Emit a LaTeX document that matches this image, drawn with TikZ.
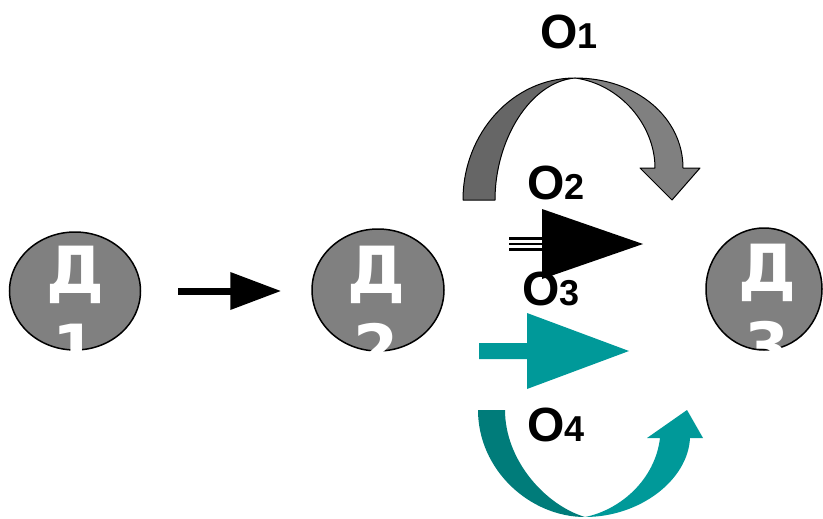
\documentclass[tikz,border=0pt]{standalone}
\usepackage{fontspec}
\setmainfont{Liberation Sans}
\newfontfamily\dfont{DejaVu Sans}
\usetikzlibrary{shapes.geometric,arrows.meta}
\definecolor{dgrey}{HTML}{666666}
\definecolor{mgrey}{HTML}{808080}
\definecolor{dteal}{HTML}{007C7A}
\definecolor{lteal}{HTML}{009999}
\tikzset{
  dnode/.style={ellipse, draw=black, line width=1.5pt, fill=mgrey, inner sep=0pt},
  dtext/.style={anchor=base, text=white, inner sep=0pt, font=\dfont\fontsize{65}{78}\selectfont\bfseries},
  olabel/.style={anchor=base west, inner sep=0pt, font=\fontsize{48}{50}\selectfont\bfseries},
  band/.style={draw=black, line width=1pt, line join=round},
}
\newcommand{\sdig}[1]{{\fontsize{36}{40}\selectfont #1}}
\begin{document}
\begin{tikzpicture}[x=1pt,y=-1pt]
\useasboundingbox (0,0) rectangle (823,519);
% D nodes
\node[dnode, minimum width=131pt, minimum height=118pt] (d1) at (75,291) {};
\node[dnode, minimum width=132pt, minimum height=122pt] (d2) at (378,290) {};
\node[dnode, minimum width=116pt, minimum height=122pt] (d3) at (764,289) {};
\node[dtext] (d1a) at (75,293) {Д};
\node[dtext] (d1b) at (75,371) {1};
\node[dtext] (d2a) at (376,293) {Д};
\node[dtext] (d2b) at (376,371) {2};
\node[dtext] (d3a) at (767,291) {Д};
\node[dtext] (d3b) at (767,369) {3};
% arrow D1 -> D2
\draw[line width=7pt, -{Triangle[length=51pt,width=36pt]}] ([xshift=37pt]d1.east) -- ([xshift=-30pt]d2.west |- d1.east);
% O1 curved arrow (grey)
\draw[band, fill=dgrey] (463,200) .. controls (463,133) and (513,78) .. (575,78)
  .. controls (530,82) and (495,140) .. (495,200) -- cycle;
\draw[band, fill=mgrey] (575,78) .. controls (637,78) and (683,118) .. (683,168)
  -- (700,168) -- (672,200) -- (640,168) -- (655,168)
  .. controls (655,125) and (620,84) .. (575,78) -- cycle;
% O2 black arrow shaft
\draw[line width=2.3pt] (509,238.5) -- (543,238.5);
\draw[line width=2.3pt] (509,244) -- (543,244);
\draw[line width=2.3pt] (509,249.5) -- (543,249.5);
% O3 teal arrow
\fill[lteal] (479,343) -- (527,343) -- (527,313) -- (629,351) -- (527,389) -- (527,359) -- (479,359) -- cycle;
% O4 curved arrow (teal)
\fill[dteal] (478,410) .. controls (478,470) and (530,517) .. (585,517)
  .. controls (545,505) and (505,460) .. (505,410) -- cycle;
\fill[lteal] (585,517) .. controls (640,517) and (688,480) .. (690,438)
  -- (703,438) -- (687,410) -- (647,438) -- (660,438)
  .. controls (655,480) and (620,510) .. (585,517) -- cycle;
% labels
\node[olabel] (o1) at (540,49) {O\sdig{1}};
\node[olabel] (o2) at (527,199) {O\sdig{2}};
\node[olabel] (o3) at (522,305) {O\sdig{3}};
\node[olabel] (o4) at (527,441) {O\sdig{4}};
% O2 arrow head drawn above O3 label
\fill[black] (542,209) -- (643,244) -- (542,279) -- cycle;
\end{tikzpicture}
\end{document}
